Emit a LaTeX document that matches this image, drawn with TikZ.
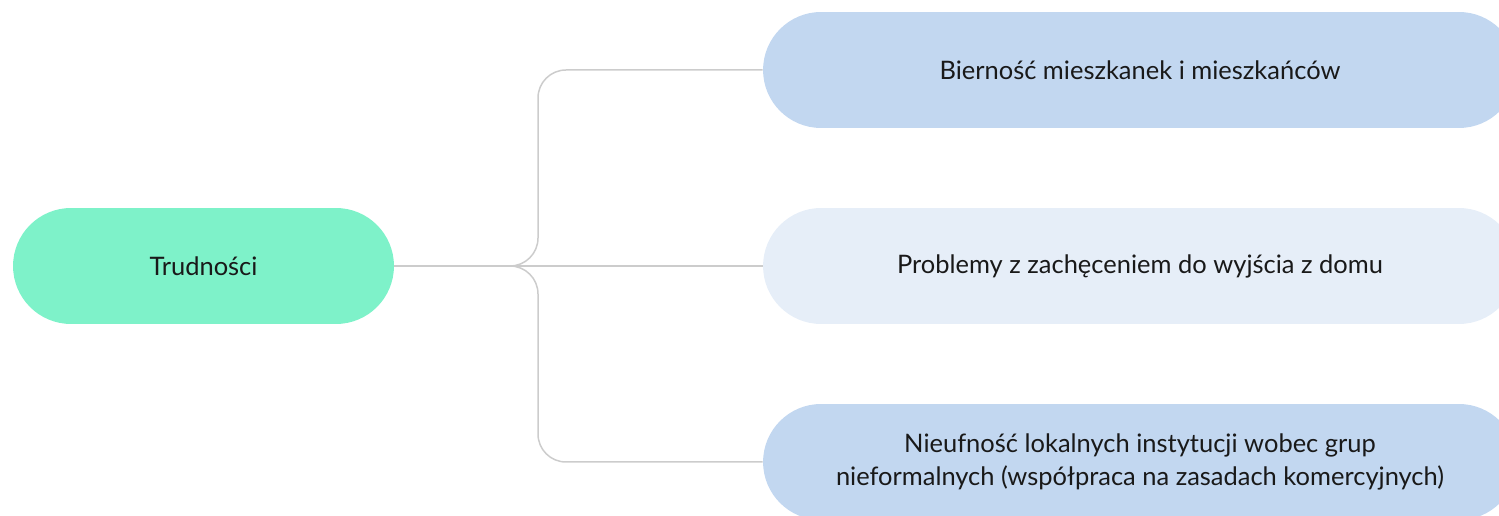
\documentclass[tikz,border=0pt]{standalone}
\usepackage{fontspec}
\setmainfont{Lato}
\usetikzlibrary{positioning}
\definecolor{rootgreen}{HTML}{7EF2C9}
\definecolor{leafblue}{HTML}{C2D7F0}
\definecolor{leafpale}{HTML}{E6EEF8}
\definecolor{linegray}{HTML}{CCCCCC}

\begin{document}
\begin{tikzpicture}[x=0.02cm, y=-0.02cm,
        pill/.style={rounded corners=1.16cm, minimum height=2.32cm, align=center,
            font=\fontsize{14.5}{18.3}\selectfont, text=black!90},
        link/.style={draw=linegray, line width=0.03cm, rounded corners=0.56cm}]
        \clip (0,0) rectangle (1499,516);

        \node[pill, fill=rootgreen, minimum width=7.62cm] (root) at (203.5,266) {Trudności};

        \node[pill, fill=leafblue, minimum width=15.08cm] (bier) at (1140,70) {Bierność mieszkanek i mieszkańców};
        \node[pill, fill=leafpale, minimum width=15.08cm] (prob) at (1140,266) {Problemy z zachęceniem do wyjścia z domu};
        \node[pill, fill=leafblue, minimum width=15.08cm] (nieuf) at (1140,462) {Nieufność lokalnych instytucji wobec grup\\nieformalnych (współpraca na zasadach komercyjnych)};

        \coordinate (fork) at (538,266);

        \draw[link] (root.east) -- (fork) |- (bier.west);
        \draw[link] (root.east) -- (prob.west);
        \draw[link] (root.east) -- (fork) |- (nieuf.west);
    \end{tikzpicture}
\end{document}
